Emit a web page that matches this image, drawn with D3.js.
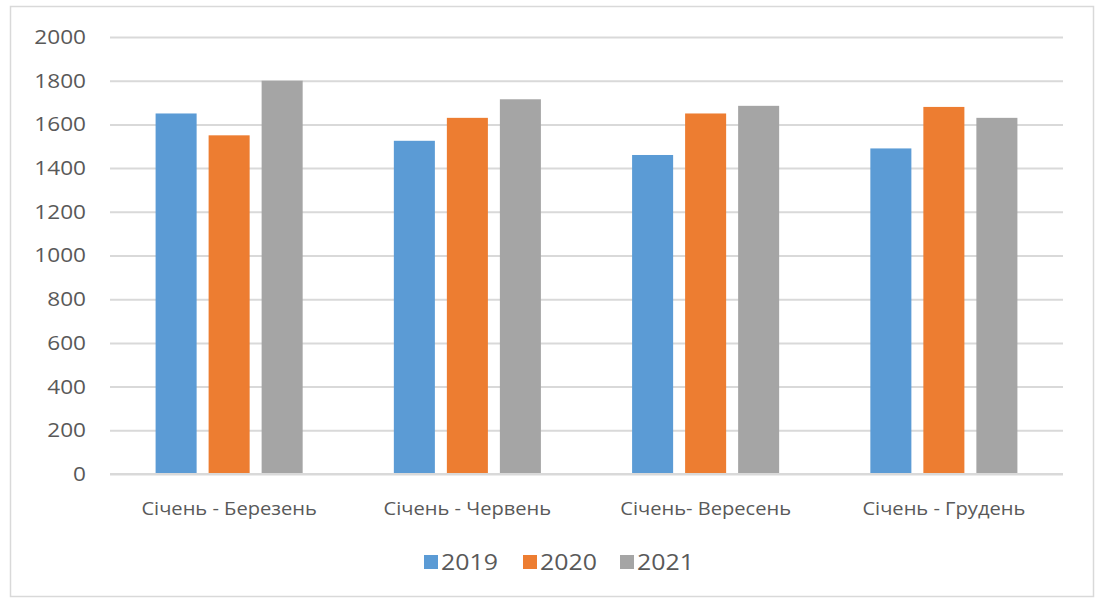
<!DOCTYPE html>
<html>
<head>
<meta charset="utf-8">
<script src="https://cdn.jsdelivr.net/npm/d3@7"></script>
<style>
  body { margin: 0; background: #fff; }
  svg { display: block; }
  svg text { font-family: "Open Sans", sans-serif; }
</style>
</head>
<body>
<svg id="chart"></svg>
<script>
// Chart data
const categories = ["Січень - Березень", "Січень - Червень", "Січень- Вересень", "Січень - Грудень"];
const seriesNames = ["2019", "2020", "2021"];
const values2019 = [1650, 1525, 1460, 1490];
const values2020 = [1550, 1630, 1650, 1680];
const values2021 = [1800, 1715, 1685, 1630];
const yTicks = [0, 200, 400, 600, 800, 1000, 1200, 1400, 1600, 1800, 2000];
const colors = ["#5B9BD5", "#ED7D31", "#A5A5A5"];

const allSeries = [values2019, values2020, values2021];

const width = 1097, height = 599;
const plotLeft = 110, plotRight = 1063, plotTop = 37, plotBottom = 474;
const stretch = 1.13; // the picture's text looks a bit wide

const svg = d3.select("#chart").attr("width", width).attr("height", height);

// stretch text horizontally to match the original look
const widen = sel => sel.each(function () {
  const len = this.getComputedTextLength();
  d3.select(this).attr("textLength", len * stretch).attr("lengthAdjust", "spacingAndGlyphs");
});

// outer frame
svg.append("rect").attr("x", 10.5).attr("y", 6.5).attr("width", 1083).attr("height", 590)
  .attr("fill", "#fff").attr("stroke", "#d9d9d9").attr("stroke-width", 1.5);

const x = d3.scaleBand().domain(categories).range([plotLeft, plotRight]).paddingInner(0).paddingOuter(0);
const xSub = d3.scaleBand().domain(seriesNames).range([0, x.bandwidth()]).paddingInner(0.226).paddingOuter(0.86);
const y = d3.scaleLinear().domain([0, 2000]).range([plotBottom, plotTop]);

// gridlines + y labels
const yAxis = d3.axisLeft(y).tickValues(yTicks).tickFormat(d3.format("d"))
  .tickSize(-(plotRight - plotLeft)).tickPadding(24);
const gy = svg.append("g").attr("transform", `translate(${plotLeft},0)`).call(yAxis);
gy.attr("font-family", null);
gy.select(".domain").remove();
gy.selectAll(".tick line").attr("stroke", "#d9d9d9").attr("stroke-width", 2);
gy.selectAll(".tick text").attr("fill", "#595959").attr("font-size", 20).call(widen);

// bars
const groups = svg.append("g").selectAll("g").data(categories).enter().append("g")
  .attr("transform", d => `translate(${x(d)},0)`);
groups.selectAll("rect").data((d, i) => seriesNames.map((s, j) => ({ s, v: allSeries[j][i], j })))
  .enter().append("rect")
  .attr("x", d => xSub(d.s))
  .attr("width", xSub.bandwidth())
  .attr("y", d => y(d.v))
  .attr("height", d => y(0) - y(d.v))
  .attr("fill", d => colors[d.j]);

// baseline
svg.append("line").attr("x1", plotLeft).attr("x2", plotRight).attr("y1", y(0)).attr("y2", y(0))
  .attr("stroke", "#d9d9d9").attr("stroke-width", 2);

// category labels
const xAxis = d3.axisBottom(x).tickSize(0).tickPadding(28);
const gx = svg.append("g").attr("transform", `translate(0,${plotBottom})`).call(xAxis);
gx.attr("font-family", null);
gx.select(".domain").remove();
gx.selectAll(".tick text").attr("fill", "#595959").attr("font-size", 17.8).call(widen);

// legend
const legendX = [424, 523, 620];
const legend = svg.append("g");
seriesNames.forEach((s, i) => {
  legend.append("rect").attr("x", legendX[i]).attr("y", 555).attr("width", 14).attr("height", 14).attr("fill", colors[i]);
  legend.append("text").attr("x", legendX[i] + 17).attr("y", 569.5).text(s)
    .attr("fill", "#595959").attr("font-size", 22).call(widen);
});
</script>
</body>
</html>
